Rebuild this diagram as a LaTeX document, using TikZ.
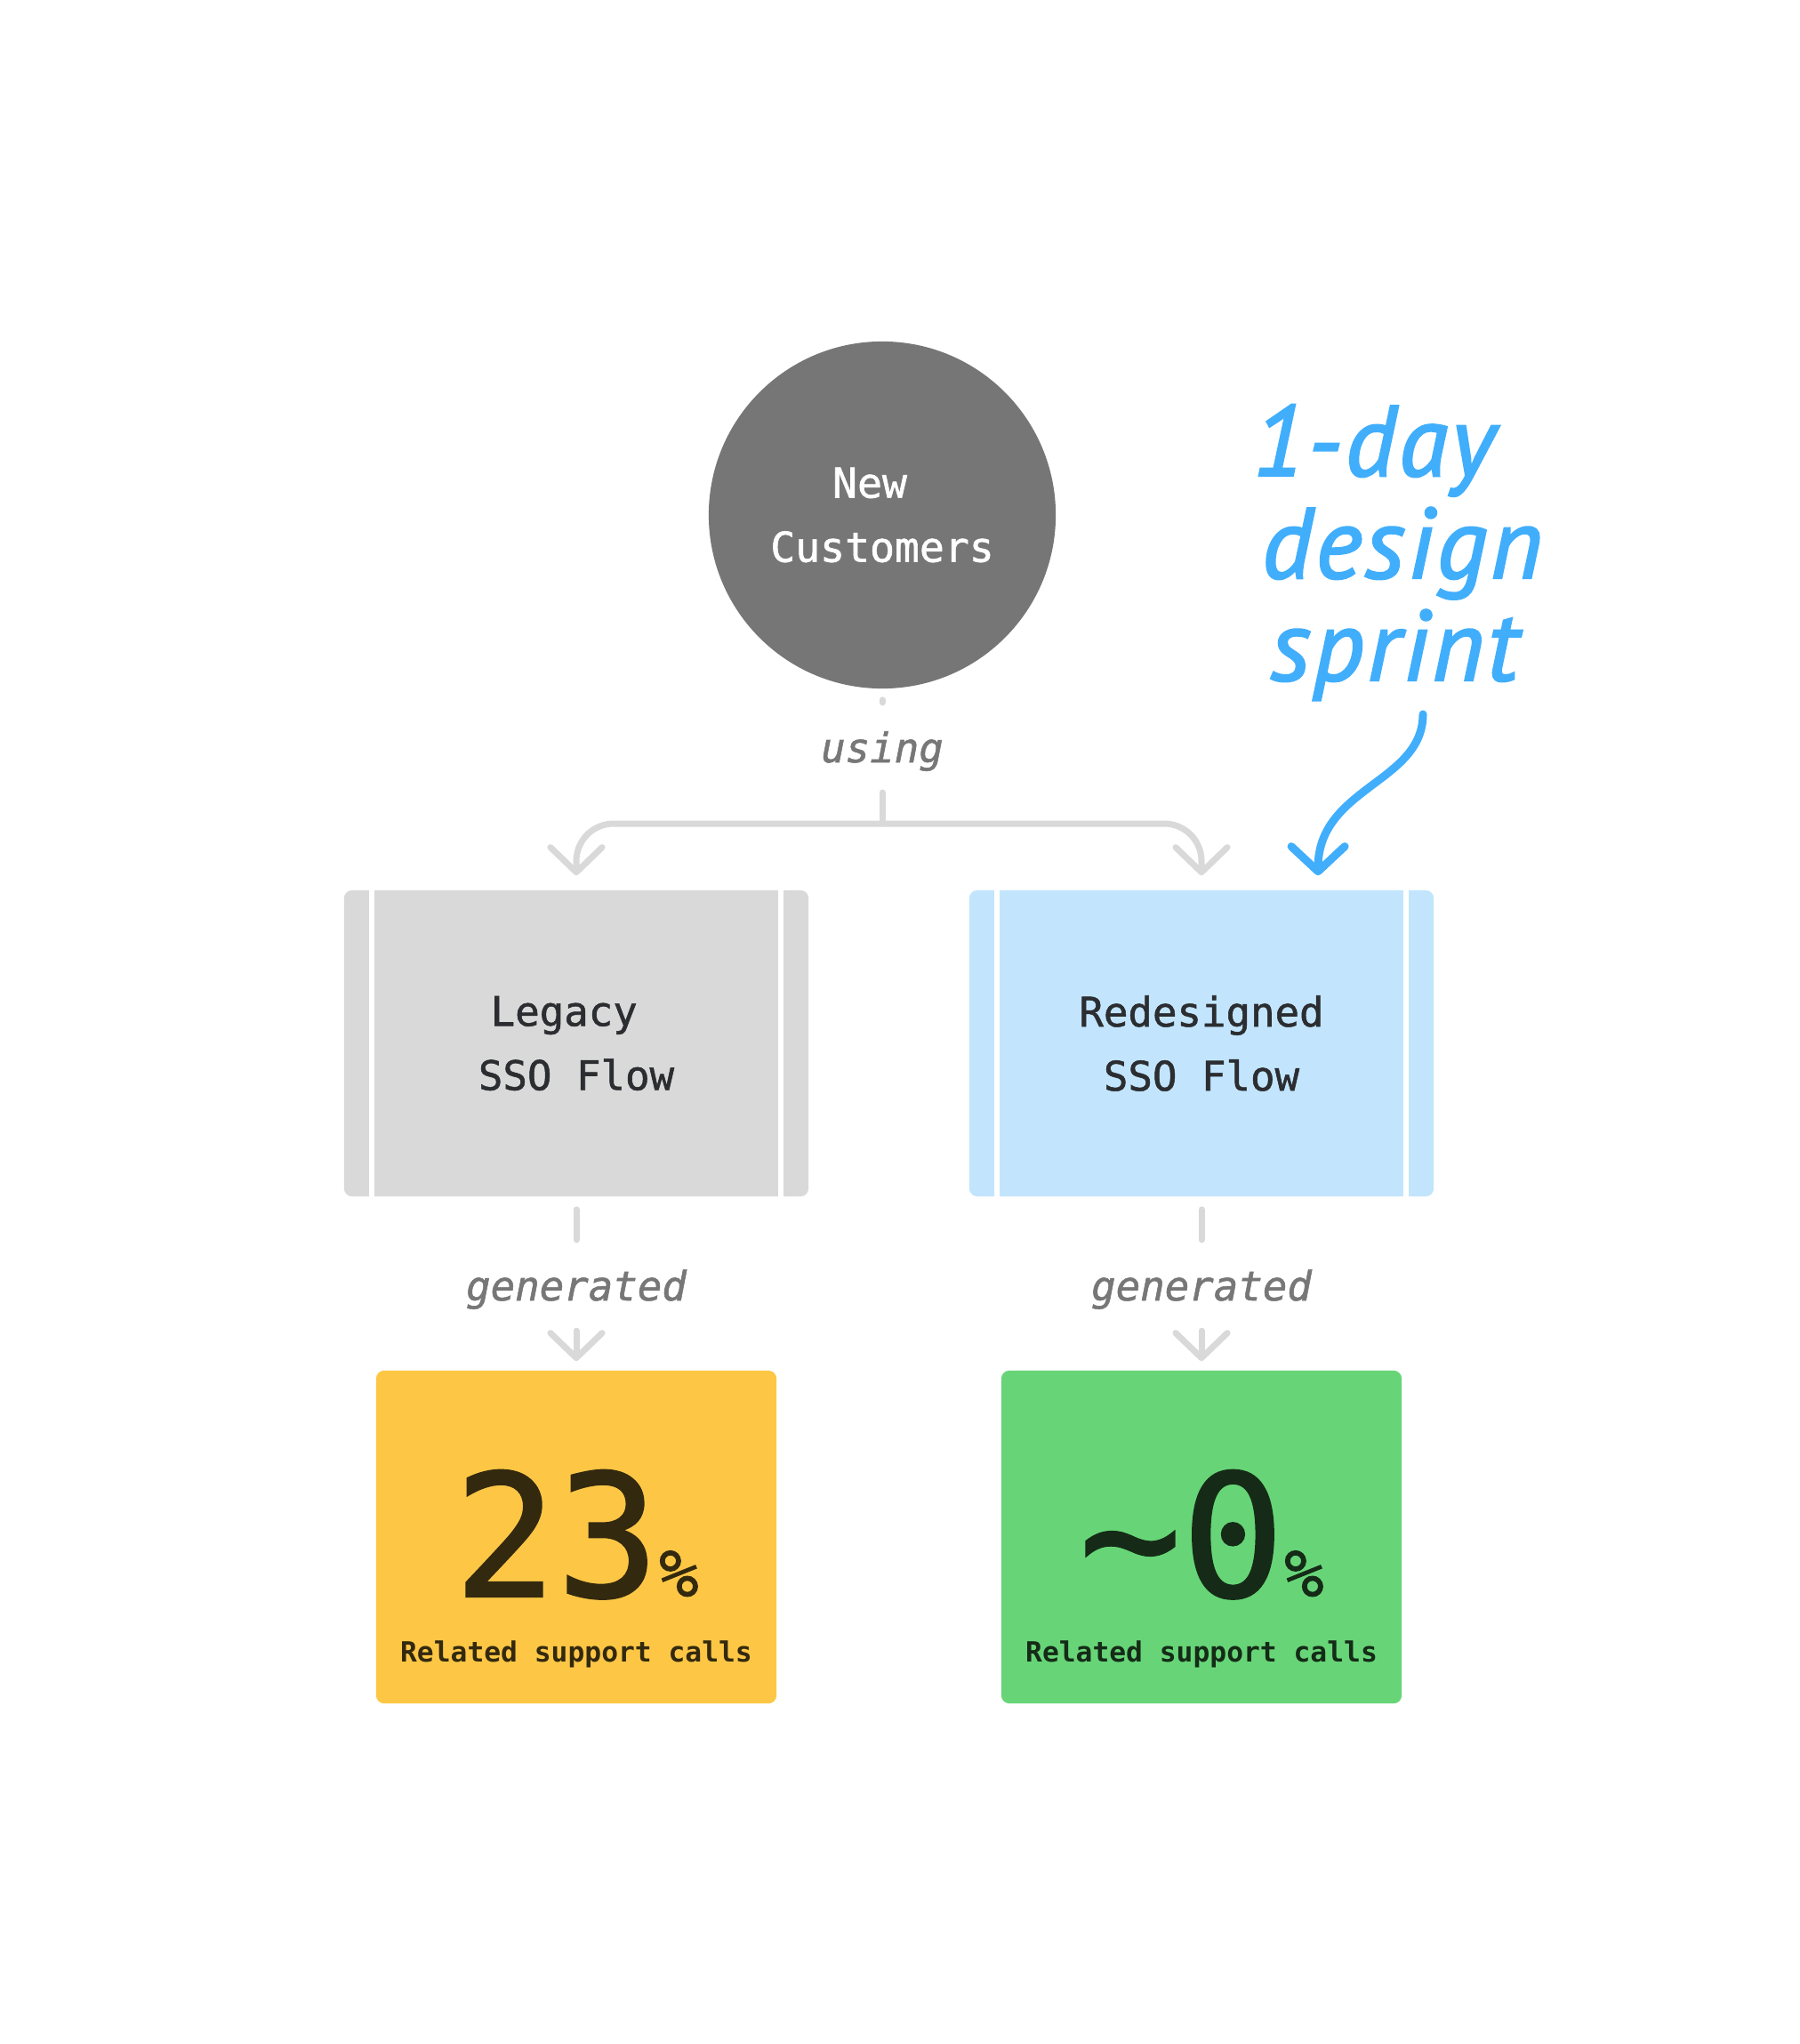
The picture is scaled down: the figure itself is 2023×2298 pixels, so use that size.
\documentclass[tikz,border=0pt]{standalone}
\usepackage{fontspec}
\setmonofont{DejaVu Sans Mono}
\newfontfamily\monomed{DejaVu Sans Mono}[FakeBold=1.2]
\newfontfamily\handfont{PT Sans}[LetterSpace=3, FakeBold=2]
\usetikzlibrary{arrows.meta}
\definecolor{custgray}{HTML}{767676}
\definecolor{boxgray}{HTML}{D9D9D9}
\definecolor{boxblue}{HTML}{C2E5FD}
\definecolor{statyellow}{HTML}{FDC745}
\definecolor{statgreen}{HTML}{67D577}
\definecolor{handblue}{HTML}{41AEFC}
\definecolor{lblgray}{HTML}{777777}
\definecolor{conngray}{HTML}{D9D9D9}
\definecolor{boxtext}{HTML}{2B2D30}
\definecolor{yelltext}{HTML}{33290F}
\definecolor{greentext}{HTML}{152B17}
\tikzset{
  conn/.style={draw=conngray, line width=0.07cm, line cap=round},
  chev/.style={-{Straight Barb[length=0.28cm, width=0.58cm, round]}},
  flowbox/.style={rectangle, rounded corners=0.09cm, minimum width=5.22cm, minimum height=3.44cm, align=center, text=boxtext, font=\monomed\fontsize{13pt}{20.5pt}\selectfont},
  statbox/.style={rectangle, rounded corners=0.09cm, minimum width=4.5cm, minimum height=3.74cm},
  lbl/.style={font=\monomed\itshape\fontsize{13pt}{16pt}\selectfont, text=lblgray, inner sep=0pt},
  stripe/.style={draw=white, line width=0.06cm},
  hand/.style={font=\handfont\itshape\fontsize{32pt}{34pt}\selectfont, text=handblue, inner sep=0pt},
  bignum/.style={font=\monomed, inner sep=0pt},
  caption/.style={font=\ttfamily\bfseries\fontsize{8.9pt}{10pt}\selectfont, inner sep=0pt},
}
\begin{document}
\begin{tikzpicture}[x=0.01cm, y=-0.01cm]
\fill[white] (0,0) rectangle (2023,2298);
\useasboundingbox (0,0) rectangle (2023,2298);

% top circle
\node[circle, fill=custgray, minimum size=3.9cm, inner sep=0pt, align=center, text=white, font=\monomed\fontsize{13.2pt}{20.5pt}\selectfont] (cust) at (992,579) {New\hphantom{x}\\Customers};

% using label and branch
\draw[conn] ([yshift=-0.12cm]cust.south) -- ([yshift=-0.15cm]cust.south);
\node[lbl, anchor=base] (using) at (992,857) {using};
\coordinate (br) at (992,926);

% flow boxes
\node[flowbox, fill=boxgray] (legacy) at (648,1173) {Legacy\hphantom{x}\\SSO Flow};
\node[flowbox, fill=boxblue] (redesigned) at (1351,1173) {Redesigned\\SSO Flow};
\foreach \b in {legacy, redesigned}{
  \draw[stripe] ([xshift=0.32cm]\b.north west) -- ([xshift=0.32cm]\b.south west);
  \draw[stripe] ([xshift=-0.32cm]\b.north east) -- ([xshift=-0.32cm]\b.south east);
}

\draw[conn] ([yshift=-0.34cm]using.base) -- (br);
\draw[conn, chev, rounded corners=0.42cm] (br) -| ([yshift=0.16cm]legacy.north);
\draw[conn, chev, rounded corners=0.42cm] (br) -| ([yshift=0.16cm]redesigned.north);

% stat boxes
\node[statbox, fill=statyellow] (stat1) at (648,1728) {};
\node[statbox, fill=statgreen] (stat2) at (1351,1728) {};

\node[lbl, anchor=base] (gen1) at (648,1462) {generated};
\node[lbl, anchor=base] (gen2) at (1351,1462) {generated};

\draw[conn] ([yshift=-0.14cm]legacy.south) -- ([yshift=-0.48cm]legacy.south);
\draw[conn] ([yshift=-0.14cm]redesigned.south) -- ([yshift=-0.48cm]redesigned.south);
\draw[conn, chev] ([yshift=0.44cm]stat1.north) -- ([yshift=0.10cm]stat1.north);
\draw[conn, chev] ([yshift=0.44cm]stat2.north) -- ([yshift=0.10cm]stat2.north);

\node[bignum, anchor=base, text=yelltext] (num1) at (648,1795) {\fontsize{54.5pt}{60pt}\selectfont 23\fontsize{21pt}{24pt}\selectfont\%};
\node[bignum, anchor=base, text=greentext] (num2) at (1351,1795) {\fontsize{54.5pt}{60pt}\selectfont \char`\~0\fontsize{21pt}{24pt}\selectfont\%};
\node[caption, anchor=base, text=yelltext] (cap1) at (648,1868) {Related support calls};
\node[caption, anchor=base, text=greentext] (cap2) at (1351,1868) {Related support calls};

% handwritten note
\node[hand, anchor=base west] (h1) at (1408,535) {1-day};
\node[hand, anchor=base west] (h2) at (1418,650) {design};
\node[hand, anchor=base west] (h3) at (1428,765) {sprint};
\coordinate (noteEnd) at (1600,803);
\draw[handblue, line width=0.09cm, line cap=round, -{Straight Barb[length=0.28cm, width=0.6cm, round]}] (noteEnd) .. controls (1600,880) and (1482,885) .. ([xshift=1.31cm, yshift=0.16cm]redesigned.north);
\end{tikzpicture}
\end{document}
